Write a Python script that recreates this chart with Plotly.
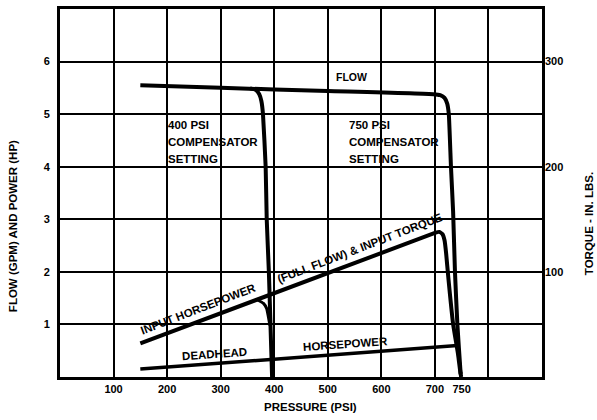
import plotly.graph_objects as go

# ---- data ----
pressure_ticks = [100, 200, 300, 400, 500, 600, 700, 750]
flow_ticks = [1, 2, 3, 4, 5, 6]
torque_ticks = [100, 200, 300]

# flow curve with 750 psi compensator
flow_psi = [150, 300, 500, 697, 710, 718, 723, 726, 730, 734, 737.5, 742, 748, 749]
flow_gpm = [5.55, 5.50, 5.44, 5.38, 5.36, 5.31, 5.20, 5.0, 4.0, 3.15, 2.0, 1.0, 0.08, 0.0]

# flow drop with 400 psi compensator
comp400_psi = [355, 366, 372, 376, 379, 384, 386, 390, 393, 396]
comp400_gpm = [5.49, 5.46, 5.38, 5.25, 5.0, 4.0, 3.0, 2.0, 1.0, 0.0]

# input horsepower (full flow) & input torque
input_psi = [150, 700, 708, 714, 718, 721, 725, 734, 743, 748]
input_hp = [0.64, 2.74, 2.76, 2.72, 2.6, 2.35, 1.9, 1.01, 0.45, 0.05]

# branch of input horsepower at 400 psi setting
fillet_psi = [368, 380, 386, 389, 392]
fillet_hp = [1.47, 1.40, 1.30, 1.15, 0.98]

# deadhead horsepower
deadhead_psi = [150, 742]
deadhead_hp = [0.15, 0.6]

# compensator label lines
comp_lines = ["400 PSI", "COMPENSATOR", "SETTING"]
comp750_lines = ["750 PSI", "COMPENSATOR", "SETTING"]
comp_line_y = [4.79, 4.47, 4.15]

FONT = "Liberation Sans"
BLACK = "#000000"

fig = go.Figure()

def curve(x, y, w=4):
    fig.add_trace(go.Scatter(x=x, y=y, mode="lines",
                             line=dict(color=BLACK, width=w, shape="spline", smoothing=0.4),
                             showlegend=False, hoverinfo="skip"))

curve(flow_psi, flow_gpm)
curve(comp400_psi, comp400_gpm)
curve(input_psi, input_hp)
curve(fillet_psi, fillet_hp, 3)
curve(deadhead_psi, deadhead_hp, 3.5)

# invisible traces so the overlay axes are drawn
fig.add_trace(go.Scatter(x=[None], y=[None], xaxis="x2", yaxis="y",
                         showlegend=False, hoverinfo="skip"))
fig.add_trace(go.Scatter(x=[None], y=[None], xaxis="x", yaxis="y2",
                         showlegend=False, hoverinfo="skip"))

tickfont = dict(family=FONT, size=11, color=BLACK, weight="bold")
lblfont = dict(family=FONT, size=11.5, color=BLACK, weight="bold")

fig.update_layout(
    width=597, height=420,
    margin=dict(l=60, r=55, t=6, b=43),
    paper_bgcolor="white", plot_bgcolor="white",
    xaxis=dict(range=[0, 900], tick0=0, dtick=100, showgrid=True,
               gridcolor=BLACK, gridwidth=2, showticklabels=False,
               showline=True, mirror=True, linewidth=3, linecolor=BLACK,
               zeroline=False, ticks=""),
    xaxis2=dict(range=[0, 900], overlaying="x", anchor="y", side="bottom",
                tickmode="array", tickvals=pressure_ticks, showgrid=False,
                zeroline=False, showline=False, ticks="", tickfont=tickfont,
                ticklabelstandoff=4),
    yaxis=dict(range=[0, 7], tickmode="array", tickvals=flow_ticks,
               showgrid=True, gridcolor=BLACK, gridwidth=2,
               showline=True, mirror=True, linewidth=3, linecolor=BLACK,
               zeroline=False, ticks="", tickfont=tickfont, ticklabelstandoff=5),
    yaxis2=dict(range=[0, 350], overlaying="y", side="right", anchor="x",
                tickmode="array", tickvals=torque_ticks, showgrid=False,
                zeroline=False, showline=False, ticks="", tickfont=tickfont,
                ticklabelstandoff=2),
)

ann = []
# axis titles
ann.append(dict(text="FLOW (GPM) AND POWER (HP)", xref="paper", yref="paper",
                x=-0.0975, y=0.41, textangle=-90, showarrow=False, font=lblfont,
                xanchor="center", yanchor="middle"))
ann.append(dict(text="TORQUE - IN. LBS.", xref="paper", yref="paper",
                x=1.0975, y=0.418, textangle=-90, showarrow=False, font=lblfont,
                xanchor="center", yanchor="middle"))
ann.append(dict(text="PRESSURE (PSI)", xref="paper", yref="paper",
                x=0.519, y=-0.081, showarrow=False, font=lblfont,
                xanchor="center", yanchor="middle"))
# curve labels
ann.append(dict(text="FLOW", x=545, y=5.7, showarrow=False,
                font=dict(family=FONT, size=10.5, color=BLACK, weight="bold")))
for txt, yy in zip(comp_lines, comp_line_y):
    ann.append(dict(text=txt, x=198, y=yy, xanchor="left", yanchor="middle",
                    showarrow=False, font=lblfont))
for txt, yy in zip(comp750_lines, comp_line_y):
    ann.append(dict(text=txt, x=536, y=yy, xanchor="left", yanchor="middle",
                    showarrow=False, font=lblfont))
ann.append(dict(text="INPUT HORSEPOWER", x=258, y=1.29, textangle=-21,
                showarrow=False, font=lblfont))
ann.append(dict(text="(FULL FLOW) &amp; INPUT TORQUE", x=560, y=2.45, textangle=-21,
                showarrow=False, font=lblfont))
ann.append(dict(text="DEADHEAD", x=289, y=0.44, textangle=-4,
                showarrow=False, font=lblfont))
ann.append(dict(text="HORSEPOWER", x=534, y=0.62, textangle=-4,
                showarrow=False, font=lblfont))
fig.update_layout(annotations=ann)

fig.write_html("out.html", config={"displayModeBar": False},
               post_script="document.body.style.margin='0';")
